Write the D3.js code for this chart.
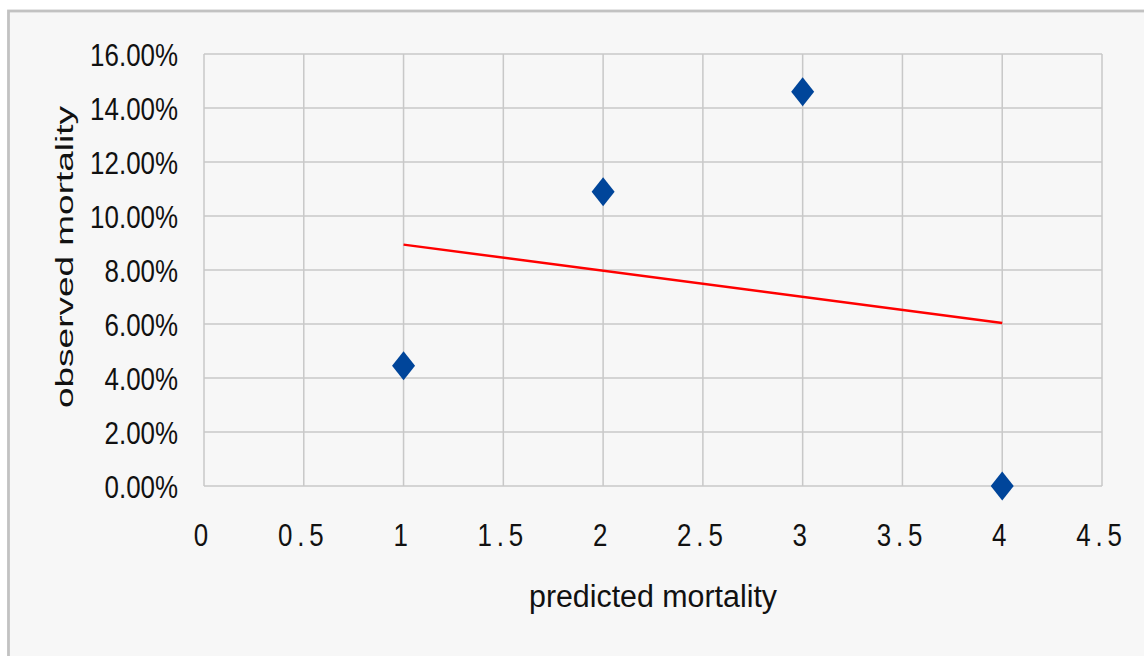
<!DOCTYPE html>
<html>
<head>
<meta charset="utf-8">
<script src="https://cdn.jsdelivr.net/npm/d3@7"></script>
<style>
  html, body { margin: 0; padding: 0; background: #ffffff; }
  svg { display: block; }
  text { font-family: "Liberation Sans", Arial, sans-serif; fill: #111; }
</style>
</head>
<body>
<svg id="chart" width="1144" height="656"></svg>
<script>
// ---- data ----
const predicted = [1, 2, 3, 4];
const observed = [4.45, 10.9, 14.6, 0.0]; // percent
const trendX = [1, 4];
const trendY = [8.94, 6.04]; // percent
const xTicks = [0, 0.5, 1, 1.5, 2, 2.5, 3, 3.5, 4, 4.5];
const yTicks = [0, 2, 4, 6, 8, 10, 12, 14, 16];
const xTitle = "predicted mortality";
const yTitle = "observed mortality";

const svg = d3.select("#chart");

// chart background & frame
svg.append("rect")
  .attr("x", 8.5).attr("y", 11)
  .attr("width", 1200).attr("height", 700)
  .attr("fill", "#f7f7f7")
  .attr("stroke", "#c2c2c2")
  .attr("stroke-width", 2.8);

const x = d3.scaleLinear().domain([0, 4.5]).range([204, 1102]);
const y = d3.scaleLinear().domain([0, 16]).range([486, 54]);

const gridColor = "#c8c8c8";

// grid lines
svg.append("g").selectAll("line").data(xTicks).join("line")
  .attr("x1", d => x(d)).attr("x2", d => x(d))
  .attr("y1", y(0)).attr("y2", y(16))
  .attr("stroke", gridColor).attr("stroke-width", 1.5);
svg.append("g").selectAll("line").data(yTicks).join("line")
  .attr("x1", x(0)).attr("x2", x(4.5))
  .attr("y1", d => y(d)).attr("y2", d => y(d))
  .attr("stroke", gridColor).attr("stroke-width", 1.5);

// y tick labels
svg.append("g").selectAll("text").data(yTicks).join("text")
  .attr("transform", d => `translate(178,${y(d) + 11.5}) scale(0.81,1)`)
  .attr("text-anchor", "end")
  .attr("font-size", 32)
  .text(d => d3.format(".2f")(d) + "%");

// x tick labels
svg.append("g").selectAll("text").data(xTicks).join("text")
  .attr("transform", d => `translate(${x(d) - 3 + 2.5},546) scale(0.81,1)`)
  .attr("text-anchor", "middle")
  .attr("font-size", 32)
  .attr("letter-spacing", 6)
  .text(d => String(d));

// trend line
const line = d3.line().x(d => x(d[0])).y(d => y(d[1]));
svg.append("path")
  .datum(trendX.map((v, i) => [v, trendY[i]]))
  .attr("d", line)
  .attr("fill", "none")
  .attr("stroke", "#ff0000")
  .attr("stroke-width", 2.5);

// diamond markers
svg.append("g").selectAll("path").data(predicted.map((v, i) => [v, observed[i]])).join("path")
  .attr("transform", d => `translate(${x(d[0])},${y(d[1])})`)
  .attr("d", "M0,-14.5L11.5,0L0,14.5L-11.5,0Z")
  .attr("fill", "#00459a");

// axis titles
svg.append("text")
  .attr("x", 653).attr("y", 607)
  .attr("text-anchor", "middle")
  .attr("font-size", 31)
  .attr("textLength", 248)
  .attr("lengthAdjust", "spacingAndGlyphs")
  .attr("fill", "#222")
  .text(xTitle);

svg.append("text")
  .attr("transform", "translate(73,257) rotate(-90)")
  .attr("text-anchor", "middle")
  .attr("font-size", 23)
  .attr("textLength", 302)
  .attr("lengthAdjust", "spacingAndGlyphs")
  .attr("fill", "#111")
  .text(yTitle);
</script>
</body>
</html>
